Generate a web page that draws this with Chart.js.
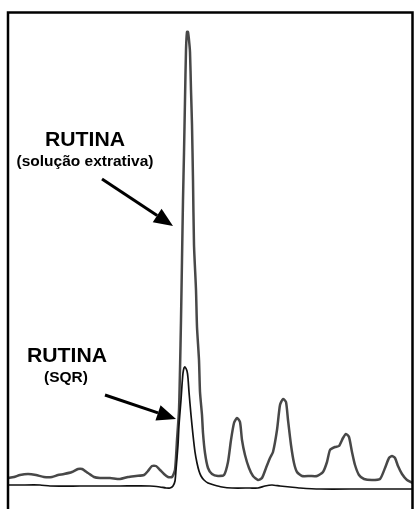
<!DOCTYPE html>
<html>
<head>
<meta charset="utf-8">
<script src="https://cdn.jsdelivr.net/npm/chart.js@4"></script>
<style>
  html, body { margin: 0; padding: 0; background: #fff; }
  #chart { display: block; }
</style>
</head>
<body>
<canvas id="chart" width="414" height="509"></canvas>
<script>
// retention time (min) and detector signal (mAU)
const extractTime = [0.0, 0.6, 1.2, 2.0, 2.8, 3.6, 4.4, 5.0, 5.6, 6.4, 7.0, 7.4, 8.0, 8.6, 9.2, 10.2, 11.2, 12.0, 12.8, 13.6,
  14.0, 14.4, 14.8, 15.2, 15.6, 16.0, 16.4, 16.7, 16.9, 17.1, 17.2, 17.3, 17.4, 17.5, 17.6, 17.7, 17.8, 17.9, 18.0, 18.1,
  18.2, 18.3, 18.4, 18.5, 18.6, 18.8, 18.9, 19.1, 19.2, 19.4, 19.5, 19.7, 20.0, 20.4, 21.0, 21.6, 22.0, 22.3, 22.6, 22.9,
  23.2, 23.4, 23.7, 24.1, 24.5, 25.0, 25.4, 25.8, 26.2, 26.5, 26.9, 27.2, 27.5, 27.8, 28.0, 28.3, 28.6, 28.9, 29.4, 30.2,
  30.9, 31.5, 31.9, 32.2, 32.7, 33.1, 33.5, 33.8, 34.1, 34.4, 34.7, 35.1, 35.6, 36.4, 37.2, 37.7, 38.1, 38.4, 38.7, 39.0,
  39.4, 39.9, 40.5];
const extractSignal = [31, 32, 34, 35, 34, 32, 32, 34, 35, 37, 40, 40, 36, 32, 31, 31, 30, 32, 33, 34,
  38, 43, 43, 39, 35, 32, 32, 39, 69, 99, 139, 189, 249, 309, 356, 409, 459, 477, 477, 469,
  457, 419, 384, 329, 264, 219, 182, 149, 117, 94, 76, 56, 41, 35, 33, 34, 47, 69, 86, 91,
  87, 69, 54, 41, 33, 29, 31, 41, 51, 57, 79, 104, 110, 107, 89, 64, 46, 37, 33, 33,
  33, 37, 47, 59, 62, 63, 71, 75, 72, 57, 44, 34, 30, 29, 30, 41, 51, 53, 51, 43,
  35, 29, 26];

const sqrTime = [0.0, 1.2, 3.2, 4.2, 7.2, 11.2, 14.2, 15.2, 15.8, 16.2, 16.5, 16.7, 16.8, 17.0, 17.1, 17.3, 17.4, 17.5,
  17.6, 17.7, 17.9, 18.0, 18.1, 18.3, 18.5, 18.7, 18.9, 19.1, 19.3, 19.6, 20.0, 20.6, 21.4, 22.4, 24.2, 25.0, 25.7,
  26.4, 27.2, 28.2, 29.2, 31.2, 35.2, 40.5];
const sqrSignal = [24, 24, 24, 23, 23, 23, 23, 22, 21, 21, 23, 28, 39, 64, 84, 109, 124, 136,
  141, 142, 138, 131, 117, 94, 74, 57, 46, 38, 33, 29, 26, 24, 22, 21, 21, 21, 23,
  24, 23, 22, 21, 20, 20, 20];

const timeRange = [0, 40.5];
const signalRange = [0, 497];

const labelTitles = ["RUTINA", "RUTINA"];
const labelSubtitles = ["(solução extrativa)", "(SQR)"];

const toPoints = (xs, ys) => xs.map((x, i) => ({ x: x, y: ys[i] }));

// border box, captions and arrows
const decorPlugin = {
  id: "decor",
  afterDraw(chart) {
    const ctx = chart.ctx;
    const xs = chart.scales.x;
    const ys = chart.scales.y;
    ctx.save();

    ctx.strokeStyle = "#000";
    ctx.lineWidth = 2.5;
    ctx.beginPath();
    ctx.moveTo(8, 520);
    ctx.lineTo(8, 12.5);
    ctx.lineTo(412.5, 12.5);
    ctx.lineTo(412.5, 520);
    ctx.stroke();

    ctx.fillStyle = "#000";
    ctx.textAlign = "center";
    ctx.textBaseline = "alphabetic";
    const title = (txt, x, y) => {
      ctx.save();
      ctx.translate(x, y);
      ctx.scale(1.06, 1);
      ctx.font = "bold 20px 'Liberation Sans', Arial, sans-serif";
      ctx.fillText(txt, 0, 0);
      ctx.restore();
    };
    title(labelTitles[0], 85, 146);
    title(labelTitles[1], 67, 362);
    ctx.font = "bold 15.5px 'Liberation Sans', Arial, sans-serif";
    ctx.fillText(labelSubtitles[0], 85, 166);
    ctx.fillText(labelSubtitles[1], 66, 382);

    const arrow = (t0, v0, t1, v1) => {
      const x0 = xs.getPixelForValue(t0), y0 = ys.getPixelForValue(v0);
      const x1 = xs.getPixelForValue(t1), y1 = ys.getPixelForValue(v1);
      const a = Math.atan2(y1 - y0, x1 - x0);
      const len = 19, half = 8;
      const bx = x1 - len * Math.cos(a), by = y1 - len * Math.sin(a);
      ctx.lineWidth = 3;
      ctx.beginPath();
      ctx.moveTo(x0, y0);
      ctx.lineTo(bx, by);
      ctx.stroke();
      ctx.beginPath();
      ctx.moveTo(x1, y1);
      ctx.lineTo(bx + half * Math.sin(a), by - half * Math.cos(a));
      ctx.lineTo(bx - half * Math.sin(a), by + half * Math.cos(a));
      ctx.closePath();
      ctx.fill();
    };
    arrow(9.4, 330, 16.5, 283);
    arrow(9.7, 114, 16.8, 90);

    ctx.restore();
  }
};

const ctx = document.getElementById("chart");
new Chart(ctx, {
  type: "line",
  data: {
    datasets: [
      {
        label: "SQR",
        data: toPoints(sqrTime, sqrSignal),
        borderColor: "#111",
        borderWidth: 1.7,
        pointRadius: 0,
        tension: 0.2,
        fill: false
      },
      {
        label: "solução extrativa",
        data: toPoints(extractTime, extractSignal),
        borderColor: "#484848",
        borderWidth: 2.5,
        pointRadius: 0,
        tension: 0.2,
        fill: false
      }
    ]
  },
  options: {
    responsive: false,
    animation: false,
    layout: { padding: { left: 8, top: 12, right: 1, bottom: 0 } },
    plugins: { legend: { display: false }, tooltip: { enabled: false } },
    scales: {
      x: { type: "linear", min: timeRange[0], max: timeRange[1], display: false },
      y: { min: signalRange[0], max: signalRange[1], display: false }
    }
  },
  plugins: [decorPlugin]
});
</script>
</body>
</html>
